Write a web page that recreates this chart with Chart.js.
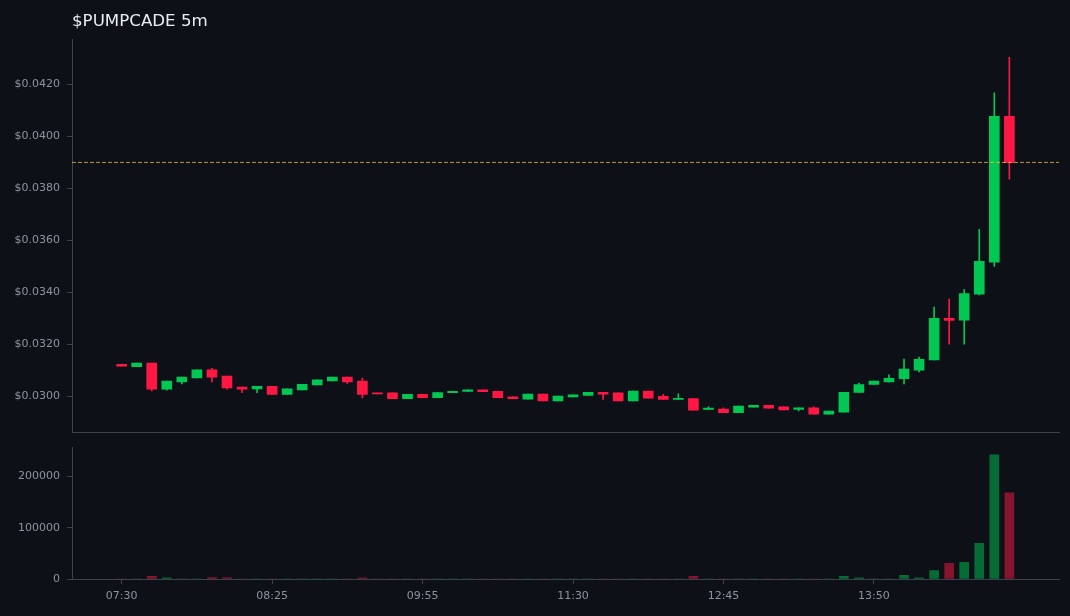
<!DOCTYPE html>
<html><head><meta charset="utf-8">
<script src="https://cdn.jsdelivr.net/npm/chart.js@4.4.1/dist/chart.umd.min.js"></script>
<style>
html,body{margin:0;padding:0;background:#0d1117;width:1070px;height:616px;overflow:hidden}
#p{position:absolute;left:0;top:0}
#v{position:absolute;left:0;top:440px}
</style></head><body>
<canvas id="p" width="1070" height="440"></canvas>
<canvas id="v" width="1070" height="176"></canvas>
<script>
const titleText = '$PUMPCADE 5m';
const tickLabels = ['07:30','08:25','09:55','11:30','12:45','13:50'];
const tickEvery = 10;
const priceTicks = [0.030,0.032,0.034,0.036,0.038,0.040,0.042];
const volumeTicks = [0,100000,200000];
const lastPrice = 0.0390;

const opens = [0.03123,0.03114,0.03127,0.03027,0.03055,0.03070,0.03101,0.03077,0.03035,0.03028,
0.03038,0.03007,0.03024,0.03043,0.03059,0.03073,0.03058,0.03012,0.03013,0.02990,
0.03007,0.02994,0.03013,0.03018,0.03024,0.03019,0.02997,0.02988,0.03008,0.02982,
0.02997,0.03003,0.03015,0.03013,0.02982,0.03020,0.02999,0.02987,0.02991,0.02949,
0.02950,0.02936,0.02958,0.02965,0.02959,0.02949,0.02955,0.02931,0.02938,0.03014,
0.03045,0.03055,0.03067,0.03100,0.03140,0.03300,0.03293,0.03393,0.03516,0.04077];
const closes = [0.03115,0.03127,0.03027,0.03058,0.03073,0.03101,0.03073,0.03032,0.03027,0.03038,
0.03007,0.03028,0.03046,0.03063,0.03073,0.03055,0.03007,0.03009,0.02990,0.03007,
0.02994,0.03014,0.03019,0.03024,0.03017,0.02994,0.02990,0.03008,0.02982,0.03000,
0.03005,0.03015,0.03008,0.02982,0.03020,0.02992,0.02987,0.02992,0.02946,0.02954,
0.02936,0.02962,0.02965,0.02954,0.02947,0.02955,0.02931,0.02943,0.03015,0.03045,
0.03058,0.03069,0.03104,0.03142,0.03300,0.03292,0.03395,0.03519,0.04077,0.03899];
const highs = [0.03123,0.03127,0.03127,0.03058,0.03073,0.03101,0.03107,0.03077,0.03035,0.03038,
0.03038,0.03028,0.03046,0.03063,0.03073,0.03073,0.03070,0.03012,0.03013,0.03007,
0.03007,0.03014,0.03019,0.03024,0.03024,0.03019,0.02997,0.03008,0.03008,0.03000,
0.03005,0.03015,0.03015,0.03013,0.03020,0.03020,0.03007,0.03009,0.02991,0.02959,
0.02955,0.02962,0.02965,0.02965,0.02959,0.02955,0.02959,0.02943,0.03015,0.03050,
0.03058,0.03082,0.03143,0.03150,0.03343,0.03374,0.03410,0.03642,0.04168,0.04305];
const lows = [0.03115,0.03114,0.03020,0.03023,0.03047,0.03070,0.03055,0.03027,0.03013,0.03013,
0.03007,0.03007,0.03024,0.03043,0.03059,0.03049,0.02993,0.03009,0.02990,0.02990,
0.02994,0.02994,0.03013,0.03018,0.03017,0.02994,0.02990,0.02988,0.02982,0.02982,
0.02997,0.03003,0.02987,0.02982,0.02982,0.02992,0.02987,0.02987,0.02946,0.02949,
0.02936,0.02936,0.02958,0.02954,0.02947,0.02943,0.02931,0.02931,0.02938,0.03014,
0.03045,0.03055,0.03047,0.03093,0.03140,0.03200,0.03200,0.03390,0.03500,0.03835];
const volumes = [0,0,5200,2400,0,0,2600,2600,0,0,
0,0,0,0,0,0,2400,0,0,0,
0,0,0,0,0,0,0,0,0,0,
0,0,0,0,0,0,0,0,5200,0,
0,0,0,0,0,0,0,0,5200,2400,
0,0,7000,2400,16500,30500,32500,69500,242300,168000];

const X_MIN = -3.3, X_MAX = 62.3;
const GREEN = '#00c853', RED = '#ff1744';
const VGREEN = 'rgba(0,200,83,0.5)', VRED = 'rgba(255,23,68,0.5)';
const SPINE = '#3d434b', TICKC = '#8b949e';

Chart.defaults.font.family = 'DejaVu Sans';
Chart.defaults.font.size = 11;
Chart.defaults.color = TICKC;

const idx = opens.map((_, i) => i);
const up = idx.map(i => closes[i] >= opens[i]);
const candleColors = up.map(u => u ? GREEN : RED);

function noPad(s) { s.paddingTop = 0; s.paddingBottom = 0; s.paddingLeft = 0; s.paddingRight = 0; }

new Chart(document.getElementById('p'), {
  data: {
    datasets: [
      { type: 'line', order: 1, data: [{x: X_MIN, y: lastPrice}, {x: X_MAX, y: lastPrice}],
        borderColor: 'rgba(232,184,74,0.8)', borderWidth: 1, borderDash: [4, 2], pointRadius: 0, fill: false },
      { type: 'bar', order: 2, grouped: false, barThickness: 10, minBarLength: 1,
        data: idx.map(i => ({x: i, y: [opens[i], closes[i]]})),
        backgroundColor: candleColors },
      { type: 'bar', order: 3, grouped: false, barThickness: 1,
        data: idx.map(i => ({x: i, y: [lows[i], highs[i]]})),
        backgroundColor: candleColors }
    ]
  },
  options: {
    responsive: false, animation: false, events: [],
    layout: { padding: { left: 0, right: 11, top: 0, bottom: 0 } },
    plugins: {
      legend: { display: false }, tooltip: { enabled: false },
      title: { display: true, text: titleText, align: 'start', fullSize: false,
        color: '#e6edf3', font: { size: 16.67, weight: 'normal' }, padding: { top: 12, bottom: 7.3 } }
    },
    scales: {
      x: { type: 'linear', min: X_MIN, max: X_MAX, offset: false,
        ticks: { display: false },
        grid: { drawOnChartArea: false, drawTicks: false, color: SPINE, offset: false },
        border: { display: true, color: SPINE },
        afterFit: s => { s.height = 8; noPad(s); } },
      y: { type: 'linear', min: 0.02862, max: 0.04374,
        afterBuildTicks: a => { a.ticks = priceTicks.map(v => ({value: v})); },
        ticks: { color: TICKC, padding: 7, callback: v => '$' + Number(v).toFixed(4) },
        grid: { drawOnChartArea: false, drawTicks: true, tickLength: 5, color: SPINE },
        border: { display: true, color: SPINE },
        afterFit: s => { s.width = 72; noPad(s); } }
    }
  }
});

new Chart(document.getElementById('v'), {
  type: 'bar',
  data: {
    datasets: [{ data: idx.map(i => ({x: i, y: volumes[i]})), barThickness: 9,
      backgroundColor: up.map(u => u ? VGREEN : VRED) }]
  },
  options: {
    responsive: false, animation: false, events: [],
    layout: { padding: { left: 0, right: 11, top: 7.3, bottom: 0 } },
    plugins: { legend: { display: false }, tooltip: { enabled: false } },
    scales: {
      x: { type: 'linear', min: X_MIN, max: X_MAX, offset: false,
        afterBuildTicks: a => { a.ticks = tickLabels.map((_, k) => ({value: k * tickEvery})); },
        ticks: { color: TICKC, padding: 6, autoSkip: false, maxRotation: 0,
          callback: v => tickLabels[Math.round(v / tickEvery)] },
        grid: { drawOnChartArea: false, drawTicks: true, tickLength: 5, color: SPINE, offset: false },
        border: { display: true, color: SPINE },
        afterFit: s => { s.height = 37; noPad(s); } },
      y: { type: 'linear', min: 0, max: 257000,
        afterBuildTicks: a => { a.ticks = volumeTicks.map(v => ({value: v})); },
        ticks: { color: TICKC, padding: 7, callback: v => String(v) },
        grid: { drawOnChartArea: false, drawTicks: true, tickLength: 5, color: SPINE },
        border: { display: true, color: SPINE },
        afterFit: s => { s.width = 72; noPad(s); } }
    }
  }
});
</script>
</body></html>
